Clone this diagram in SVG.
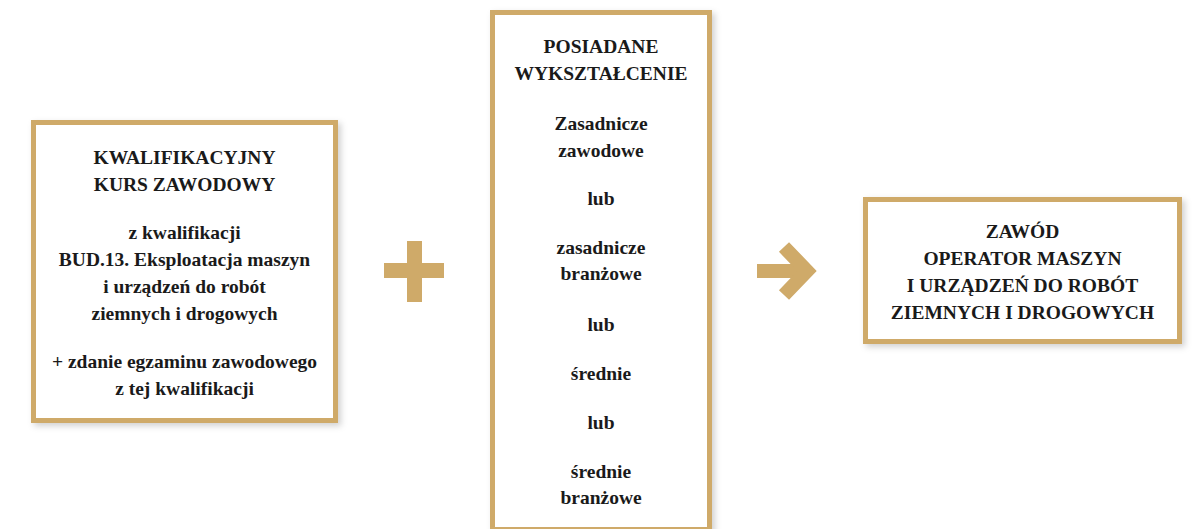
<svg xmlns="http://www.w3.org/2000/svg" width="1195" height="529" viewBox="0 0 1195 529">
  <defs>
    <filter id="sh" x="-10%" y="-10%" width="125%" height="125%">
      <feDropShadow dx="3" dy="3" stdDeviation="3" flood-color="#000" flood-opacity="0.18"/>
    </filter>
    <style>
      .box { fill: #ffffff; stroke: #CFAA69; stroke-width: 5; filter: url(#sh); }
      .t { font-weight: bold; font-size: 19.5px; fill: #1a1a1a; text-anchor: middle; }
      .gold { fill: #CFAA69; }
    </style>
  </defs>
  <rect width="1195" height="529" fill="#ffffff"/>

  <g id="node-kurs" font-family="Liberation Serif, DejaVu Serif, serif">
    <rect class="box" x="33.5" y="122.5" width="302" height="298"/>
    <text class="t" x="184.5" y="164">KWALIFIKACYJNY</text>
    <text class="t" x="184.5" y="191">KURS ZAWODOWY</text>
    <text class="t" x="184.5" y="239">z kwalifikacji</text>
    <text class="t" x="184.5" y="266">BUD.13. Eksploatacja maszyn</text>
    <text class="t" x="184.5" y="293">i urządzeń do robót</text>
    <text class="t" x="184.5" y="320">ziemnych i drogowych</text>
    <text class="t" x="184.5" y="368">+ zdanie egzaminu zawodowego</text>
    <text class="t" x="184.5" y="395">z tej kwalifikacji</text>
  </g>

  <g id="node-wyksztalcenie" font-family="Liberation Serif, DejaVu Serif, serif">
    <rect class="box" x="492.5" y="12.5" width="217" height="517"/>
    <text class="t" x="601" y="53">POSIADANE</text>
    <text class="t" x="601" y="80">WYKSZTAŁCENIE</text>
    <text class="t" x="601" y="130">Zasadnicze</text>
    <text class="t" x="601" y="157">zawodowe</text>
    <text class="t" x="601" y="205">lub</text>
    <text class="t" x="601" y="254">zasadnicze</text>
    <text class="t" x="601" y="280">branżowe</text>
    <text class="t" x="601" y="331">lub</text>
    <text class="t" x="601" y="380">średnie</text>
    <text class="t" x="601" y="429">lub</text>
    <text class="t" x="601" y="478">średnie</text>
    <text class="t" x="601" y="504">branżowe</text>
  </g>

  <g id="node-zawod" font-family="Liberation Serif, DejaVu Serif, serif">
    <rect class="box" x="865.5" y="199.5" width="314" height="142"/>
    <text class="t" x="1022.5" y="238">ZAWÓD</text>
    <text class="t" x="1022.5" y="265">OPERATOR MASZYN</text>
    <text class="t" x="1022.5" y="292">I URZĄDZEŃ DO ROBÓT</text>
    <text class="t" x="1022.5" y="319">ZIEMNYCH I DROGOWYCH</text>
  </g>

  <g id="connectors">
    <g id="plus">
      <rect class="gold" x="407" y="241" width="15" height="61"/>
      <rect class="gold" x="384" y="263" width="60" height="15"/>
    </g>
    <g id="arrow">
      <rect class="gold" x="757" y="264" width="46" height="14"/>
      <polyline points="784,247 807,271 784,295" fill="none" stroke="#CFAA69" stroke-width="14" stroke-linejoin="miter" stroke-miterlimit="4"/>
    </g>
  </g>
</svg>
